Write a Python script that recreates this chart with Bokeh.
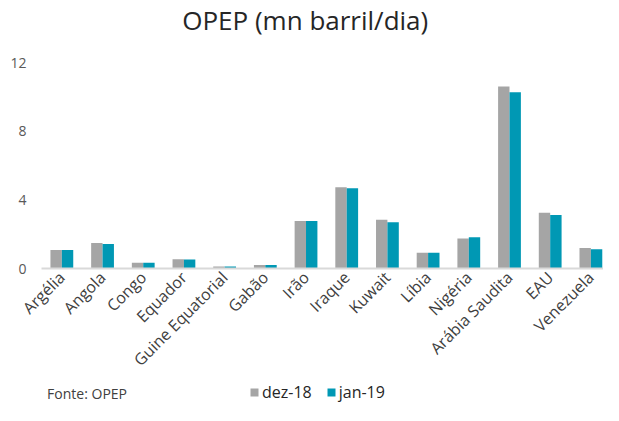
from math import pi
from bokeh.plotting import figure
from bokeh.layouts import column
from bokeh.models import ColumnDataSource, FixedTicker, Label, Legend, LegendItem, Range1d
from bokeh.transform import dodge
from bokeh.embed import file_html
from bokeh.resources import INLINE

countries = ["Argélia", "Angola", "Congo", "Equador", "Guine Equatorial", "Gabão", "Irão",
             "Iraque", "Kuwait", "Líbia", "Nigéria", "Arábia Saudita", "EAU", "Venezuela"]
dez18 = [1.08, 1.49, 0.33, 0.54, 0.12, 0.20, 2.77, 4.74, 2.84, 0.92, 1.75, 10.60, 3.25, 1.19]
jan19 = [1.08, 1.42, 0.33, 0.53, 0.12, 0.20, 2.77, 4.68, 2.69, 0.92, 1.82, 10.27, 3.11, 1.12]
series_names = ["dez-18", "jan-19"]
y_ticks = [0, 4, 8, 12]
title_text = "OPEP (mn barril/dia)"
source_text = "Fonte: OPEP"

FONT = "Open Sans"
GRAY = "#A5A5A5"
TEAL = "#0098B4"

idx = list(range(len(countries)))
src = ColumnDataSource(dict(x=idx, dez=dez18, jan=jan19))

W = 603
H0, H1, H2 = 54, 327, 24


def strip(h):
    f = figure(width=W, height=h, output_backend="svg", toolbar_location=None,
               x_range=Range1d(0, W), y_range=Range1d(0, h),
               x_axis_location=None, y_axis_location=None,
               min_border=0, outline_line_color=None)
    f.xgrid.visible = False
    f.ygrid.visible = False
    return f


# title strip
t = strip(H0)
t.add_layout(Label(x=151, y=35, text=title_text, text_align="left", text_baseline="alphabetic",
                   text_font=FONT, text_font_size="26px", text_color="#262626"))

# main chart
p = figure(width=W, height=H1, output_backend="svg", toolbar_location=None,
           x_range=Range1d(-0.5, 13.31), y_range=Range1d(0, 12),
           min_border_left=41, min_border_right=0, min_border_top=8, min_border_bottom=100)

p.vbar(x=dodge("x", -0.14, range=p.x_range), top="dez", width=0.28, source=src,
       fill_color=GRAY, line_color=None)
p.vbar(x=dodge("x", 0.14, range=p.x_range), top="jan", width=0.28, source=src,
       fill_color=TEAL, line_color=None)

p.xgrid.visible = False
p.ygrid.visible = False
p.outline_line_color = None

p.xaxis.ticker = FixedTicker(ticks=idx)
p.xaxis.major_label_overrides = {i: c for i, c in enumerate(countries)}
p.xaxis.major_label_orientation = pi / 4
p.xaxis.axis_line_color = "#D9D9D9"
p.xaxis.axis_line_width = 2
p.xaxis.major_tick_line_color = None
p.xaxis.minor_tick_line_color = None
p.xaxis.major_tick_out = 0
p.xaxis.major_label_standoff = 6
p.xaxis.major_label_text_font = FONT
p.xaxis.major_label_text_font_size = "16px"
p.xaxis.major_label_text_color = "#404040"

p.yaxis.ticker = FixedTicker(ticks=y_ticks)
p.yaxis.axis_line_color = None
p.yaxis.major_tick_line_color = None
p.yaxis.minor_tick_line_color = None
p.yaxis.major_tick_out = 0
p.yaxis.major_label_standoff = 15
p.yaxis.major_label_text_font = FONT
p.yaxis.major_label_text_font_size = "14px"
p.yaxis.major_label_text_color = "#595959"

# bottom strip: legend and source note
q = strip(H2)
g1 = q.quad(left=[-50], right=[-40], top=[-40], bottom=[-50], fill_color=GRAY, line_color=None)
g2 = q.quad(left=[-50], right=[-40], top=[-40], bottom=[-50], fill_color=TEAL, line_color=None)
legend = Legend(items=[LegendItem(label=series_names[0], renderers=[g1]),
                       LegendItem(label=series_names[1], renderers=[g2])],
                orientation="horizontal", location=(208, 2),
                glyph_width=10, glyph_height=10, label_standoff=3, spacing=14,
                label_height=18, padding=0, margin=0, border_line_color=None,
                background_fill_alpha=0,
                label_text_font=FONT, label_text_font_size="16px", label_text_color="#262626")
q.add_layout(legend, "center")
q.add_layout(Label(x=6, y=12, text=source_text, text_align="left", text_baseline="alphabetic",
                   text_font=FONT, text_font_size="14px", text_color="#404040"))

layout = column(t, p, q, spacing=0)
open("out.html", "w").write(file_html(layout, INLINE))
